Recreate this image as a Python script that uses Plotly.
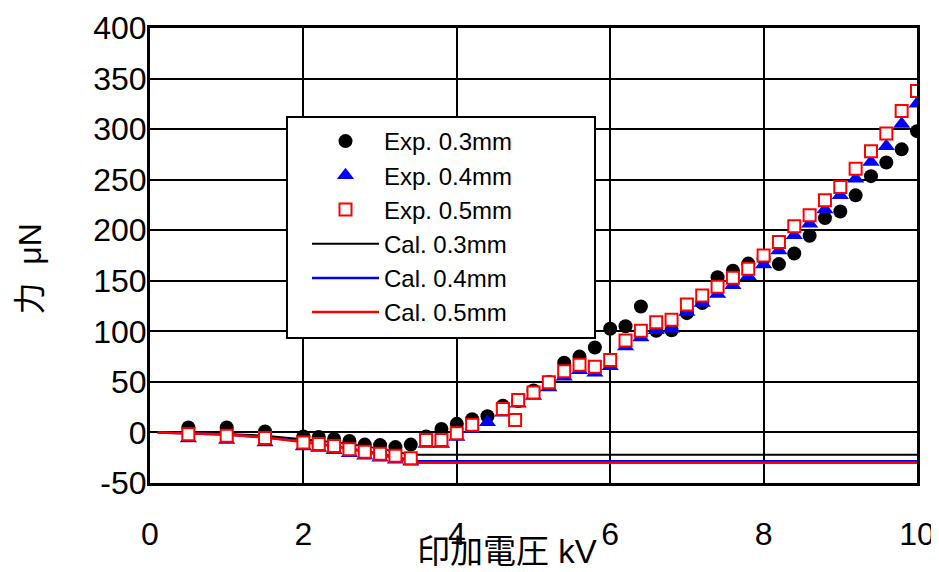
import plotly.graph_objects as go

# ---- data ----
x_exp = [0.5, 1.0, 1.5, 2.0, 2.2, 2.4, 2.6, 2.8, 3.0, 3.2, 3.4, 3.6, 3.8, 4.0, 4.2,
         4.4, 4.6, 4.8, 5.0, 5.2, 5.4, 5.6, 5.8, 6.0, 6.2, 6.4, 6.6, 6.8, 7.0, 7.2,
         7.4, 7.6, 7.8, 8.0, 8.2, 8.4, 8.6, 8.8, 9.0, 9.2, 9.4, 9.6, 9.8, 10.0]
exp_03 = [5, 5, 1, -4, -4.5, -6.5, -8.5, -12, -12.5, -14.5, -12, -4, 3.5, 8.5, 13,
          16, 26.5, 31, 41.5, 50, 69, 75, 84, 102.5, 105, 124.5, 100.5, 101, 118, 128,
          153.5, 160, 167, 172, 166.5, 177, 194.5, 212, 218.5, 234.5, 253.5, 267, 280, 298]
exp_04 = [-6, -7.5, -10, -14, -15.5, -17.5, -20.5, -23, -25, -27, -29, -11.5, -11.5, -4.5, 3.5,
          10, 19.5, 28.5, 36, 44.5, 55, 61.5, 59, 65.5, 85, 94, 101, 102.5, 119, 128,
          137, 145.5, 154.5, 166, 180, 195, 206.5, 220.5, 234.5, 251, 267.5, 283, 305, 325]
x_exp05 = [0.5, 1.0, 1.5, 2.0, 2.2, 2.4, 2.6, 2.8, 3.0, 3.2, 3.4, 3.6, 3.8, 4.0, 4.2,
           4.6, 4.76, 4.8, 5.0, 5.2, 5.4, 5.6, 5.8, 6.0, 6.2, 6.4, 6.6, 6.8, 7.0, 7.2,
           7.4, 7.6, 7.8, 8.0, 8.2, 8.4, 8.6, 8.8, 9.0, 9.2, 9.4, 9.6, 9.8, 10.0]
exp_05 = [-1.7, -3.3, -5.6, -10, -11.5, -13.5, -16.5, -19, -21, -23, -25.5, -7.5, -7.5, -0.8, 7.6,
          23.2, 12.3, 32, 39.5, 49.6, 60.5, 67, 65, 71.7, 91, 100.5, 109, 111.4, 126.6, 135.5,
          144, 153, 162, 175, 188.3, 204, 214.8, 229.6, 242.8, 260.7, 278.2, 295.7, 317.8, 337.7]

x_cal03 = [0.1, 0.5, 1.0, 1.5, 2.0, 2.5, 3.0, 3.4, 10.0]
cal_03 = [0, -0.5, -1.5, -3.2, -6.5, -10.5, -16, -22, -22]
x_cal04 = [0.1, 0.5, 1.0, 1.5, 2.0, 2.5, 3.0, 3.45, 10.0]
cal_04 = [0, -0.7, -2, -4.8, -9, -14.5, -21, -28.5, -28.5]
x_cal05 = [0.1, 0.5, 1.0, 1.5, 2.0, 2.5, 3.0, 3.45, 10.0]
cal_05 = [0, -0.7, -2, -5, -9.5, -15, -22, -30, -30]

names = ["Exp. 0.3mm", "Exp. 0.4mm", "Exp. 0.5mm", "Cal. 0.3mm", "Cal. 0.4mm", "Cal. 0.5mm"]
x_ticks = [0, 2, 4, 6, 8, 10]
y_ticks = [-50, 0, 50, 100, 150, 200, 250, 300, 350, 400]

FONT = "Liberation Sans, Arial, Noto Sans CJK JP, sans-serif"

fig = go.Figure()

# calculated lines (drawn beneath the markers)
fig.add_trace(go.Scatter(x=x_cal03, y=cal_03, mode="lines", name=names[3], legendrank=4,
                         line=dict(color="#000000", width=2)))
fig.add_trace(go.Scatter(x=x_cal04, y=cal_04, mode="lines", name=names[4], legendrank=5,
                         line=dict(color="#0000ff", width=2.5)))
fig.add_trace(go.Scatter(x=x_cal05, y=cal_05, mode="lines", name=names[5], legendrank=6,
                         line=dict(color="#ff0000", width=2.5)))

# experimental markers
fig.add_trace(go.Scatter(x=x_exp, y=exp_03, mode="markers", name=names[0], legendrank=1,
                         marker=dict(symbol="circle", size=14, color="#000000")))
fig.add_trace(go.Scatter(x=x_exp, y=exp_04, mode="markers", name=names[1], legendrank=2,
                         marker=dict(symbol="triangle-up", size=15, color="#0000ff")))
fig.add_trace(go.Scatter(x=x_exp05, y=exp_05, mode="markers", name=names[2], legendrank=3,
                         marker=dict(symbol="square", size=12, color="#ffffff",
                                     line=dict(color="#ff0000", width=2))))

# the page body adds an 8 px offset, so the figure is sized to compensate
fig.update_layout(
    width=931, height=564,
    margin=dict(l=142, r=22, t=20, b=89),
    paper_bgcolor="white", plot_bgcolor="white",
    font=dict(family=FONT, size=30, color="black"),
    showlegend=True,
    legend=dict(x=0.2047, y=0.800, xanchor="left", yanchor="top",
                bgcolor="rgba(0,0,0,0)", borderwidth=0,
                font=dict(family=FONT, size=24, color="black"),
                itemwidth=67, tracegroupgap=0),
    # legend frame (white box with black border)
    shapes=[dict(type="rect", xref="paper", yref="paper",
                 x0=0.1786, x1=0.5802, y0=0.3187, y1=0.8044,
                 fillcolor="white", line=dict(color="black", width=2), layer="above")],
)
fig.update_xaxes(range=[0, 10], tickvals=x_ticks, ticktext=[str(v) for v in x_ticks],
                 showgrid=True, gridcolor="black", gridwidth=2,
                 showline=True, linecolor="black", linewidth=3, mirror=True,
                 zeroline=False, ticks="", ticklabelstandoff=21, automargin=False,
                 tickfont=dict(family=FONT, size=32))
fig.update_yaxes(range=[-50, 400], tickvals=y_ticks, ticktext=[str(v) for v in y_ticks],
                 showgrid=True, gridcolor="black", gridwidth=2,
                 showline=True, linecolor="black", linewidth=3, mirror=True,
                 zeroline=False, ticks="", ticklabelstandoff=-6, automargin=False,
                 tickfont=dict(family=FONT, size=32))

fig.add_annotation(text="印加電圧 kV", xref="paper", yref="paper", x=0.4655, y=-0.150,
                   xanchor="center", yanchor="middle", showarrow=False,
                   font=dict(family=FONT, size=33, color="black"))
fig.add_annotation(text="力  μN", xref="paper", yref="paper", x=-0.156, y=0.470,
                   xanchor="center", yanchor="middle", showarrow=False, textangle=-90,
                   font=dict(family=FONT, size=32, color="black"))

fig.write_html("out.html")
